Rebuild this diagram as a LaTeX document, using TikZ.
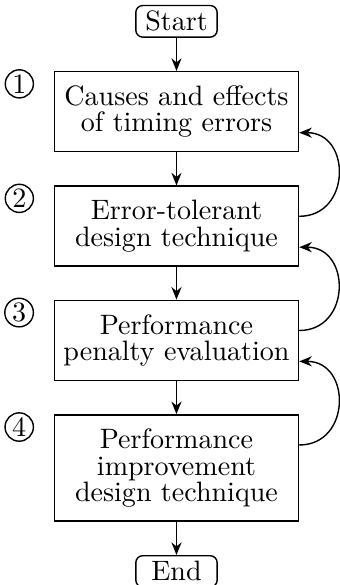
\documentclass[tikz,border=0pt]{standalone}
\usetikzlibrary{positioning,arrows.meta}

\tikzset{
  stepbox/.style={draw, align=center, text width=82pt, inner xsep=2.5pt,
    inner ysep=5pt, font=\fontsize{10}{9.4}\selectfont},
  termbox/.style={draw, rounded corners=2.5pt, minimum width=29pt,
    minimum height=11.2pt, inner sep=2pt},
  numcirc/.style={draw, circle, inner sep=0.6pt}
}

\begin{document}
\begin{tikzpicture}[>={Stealth[length=4.5pt,width=3.6pt]}, node distance=11.8pt, line width=0.5pt]
    \useasboundingbox (-62.9pt,7.6pt) rectangle (58.2pt,-200.9pt);

    % Flow of the steps
    \node[termbox] (start) at (0,0) {Start};
    \node[stepbox, below=of start] (b1) {Causes and effects\\of timing errors};
    \node[stepbox, below=of b1] (b2) {Error-tolerant\\design technique};
    \node[stepbox, below=of b2] (b3) {Performance\\penalty evaluation};
    \node[stepbox, below=of b3] (b4) {Performance\\improvement\\design technique};
    \node[termbox, below=of b4] (end) {End};

    % Step numbers
    \foreach \i in {1,...,4} {
        \node[numcirc, left=7pt of b\i.north west, yshift=-4.6pt] (n\i) {\i};
    }

    % Arrows down
    \draw[->] (start) -- (b1);
    \draw[->] (b1) -- (b2);
    \draw[->] (b2) -- (b3);
    \draw[->] (b3) -- (b4);
    \draw[->] (b4) -- (end);

    % Feedback to the previous step
    \foreach \a/\b in {b1/b2, b2/b3, b3/b4} {
        \draw[->] ([yshift=-11pt]\b.north east) to[out=0, in=0, looseness=1.6]
            ([yshift=-22pt]\a.north east);
    }
\end{tikzpicture}
\end{document}
